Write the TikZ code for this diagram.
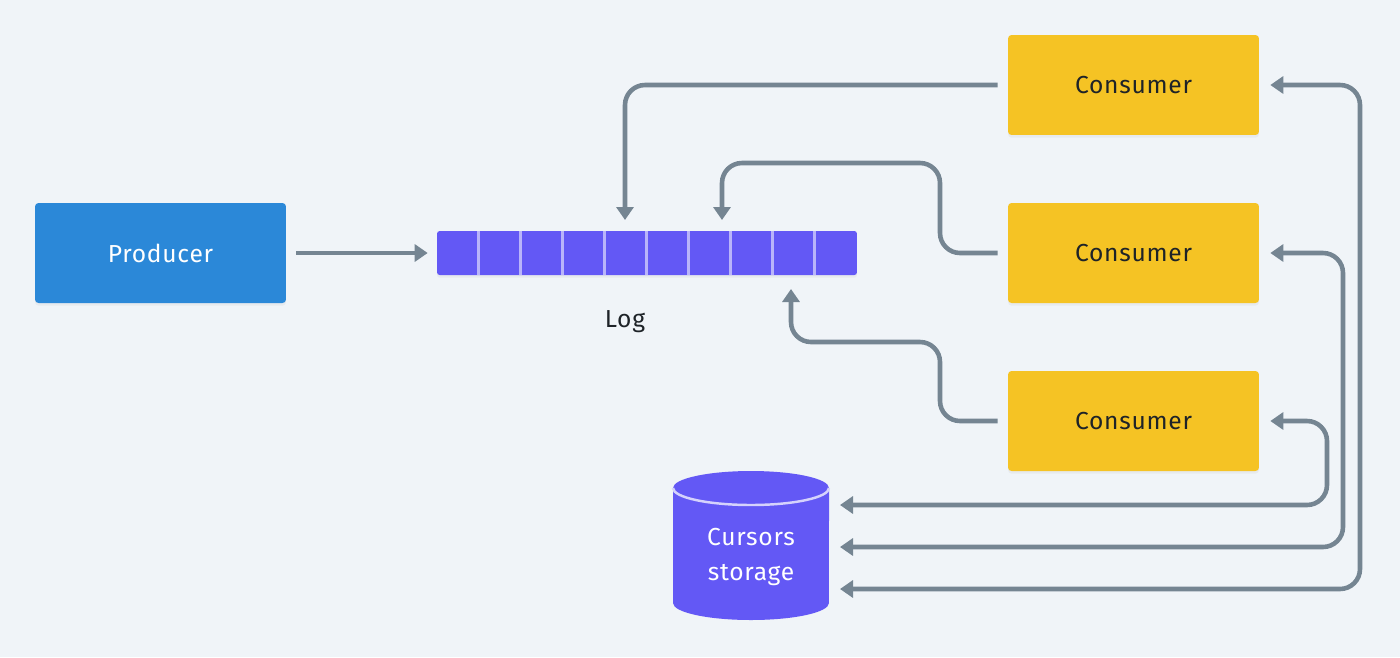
\documentclass[tikz,border=0pt]{standalone}
\usepackage{fontspec}
\setmainfont{Fira Sans}[LetterSpace=3]
\usetikzlibrary{arrows.meta, shadows}

\definecolor{bgcol}{HTML}{F0F4F8}
\definecolor{prodcol}{HTML}{2B88D8}
\definecolor{logcol}{HTML}{6358F5}
\definecolor{conscol}{HTML}{F5C324}
\definecolor{linecol}{HTML}{758592}
\definecolor{sepcol}{HTML}{B9B4FA}
\definecolor{txtcol}{HTML}{1E2328}

\begin{document}
\begin{tikzpicture}[x=0.02cm, y=-0.02cm,
    every node/.style={font=\fontsize{14}{17}\selectfont, text=txtcol},
    box/.style={rectangle, rounded corners=2pt, minimum width=5.02cm,
      minimum height=2cm, inner sep=0pt,
      drop shadow={shadow xshift=0pt, shadow yshift=-1.5pt, opacity=0.08}},
    flow/.style={draw=linecol, line width=2.6pt, rounded corners=0.4cm,
      -{Triangle[length=0.26cm, width=0.34cm]}},
    both/.style={flow, {Triangle[length=0.26cm, width=0.34cm]}-{Triangle[length=0.26cm, width=0.34cm]}},
    cellsep/.style={draw=sepcol, line width=1.7pt},
  ]
  % background
  \fill[bgcol] (0,0) rectangle (1400,657);
  \useasboundingbox (0,0) rectangle (1400,657);

  % producer and log
  \node[box, fill=prodcol, text=white] (producer) at (160.5,253) {Producer};
  \node[rectangle, rounded corners=1.5pt, fill=logcol, minimum width=8.4cm,
        minimum height=0.88cm, inner sep=0pt,
        drop shadow={shadow xshift=0pt, shadow yshift=-1.5pt, opacity=0.08}] (log) at (647,253) {};
  \foreach \i in {1,...,9}
    \draw[cellsep] ([xshift=\i*0.84cm]log.north west) -- ([xshift=\i*0.84cm]log.south west);
  \node (loglabel) at (625,322) {Log};

  % consumers
  \node[box, fill=conscol] (c1) at (1133.5,85)  {Consumer};
  \node[box, fill=conscol] (c2) at (1133.5,253) {Consumer};
  \node[box, fill=conscol] (c3) at (1133.5,421) {Consumer};

  % cursors storage
  \fill[logcol] (673,488) -- (673,603)
    arc[start angle=180, end angle=360, x radius=1.56cm, y radius=0.34cm]
    -- (829,488) -- cycle;
  \fill[logcol] (751,488) ellipse[x radius=1.56cm, y radius=0.34cm];
  \draw[sepcol!60!white, line width=1.4pt] (673,488)
    arc[start angle=180, end angle=360, x radius=1.56cm, y radius=0.34cm];
  \node[align=center, text=white, font=\fontsize{14}{19.5}\selectfont] (storage) at (751,557) {Cursors\\storage};

  % connector ends
  \coordinate (tip1) at (625,220);
  \coordinate (tip2) at (722,220);
  \coordinate (tip3) at (791,289);
  \coordinate (st1) at (840,589);
  \coordinate (st2) at (840,547);
  \coordinate (st3) at (840,505);

  % producer writes, consumers read
  \draw[flow, shorten <=0.2cm, shorten >=0.18cm] (producer) -- (log);
  \draw[flow] ([xshift=-0.2cm]c1.west) -| (tip1);
  \draw[flow] ([xshift=-0.2cm]c2.west) -- (940,253) -- (940,163) -- (722,163) -- (tip2);
  \draw[flow] ([xshift=-0.2cm]c3.west) -- (940,421) -- (940,342) -- (791,342) -- (tip3);

  % cursors
  \draw[both] (st3) -- (1327,505) -- (1327,421) -- ([xshift=0.22cm]c3.east);
  \draw[both] (st2) -- (1343,547) -- (1343,253) -- ([xshift=0.22cm]c2.east);
  \draw[both] (st1) -- (1360,589) -- (1360,85)  -- ([xshift=0.22cm]c1.east);
\end{tikzpicture}
\end{document}
